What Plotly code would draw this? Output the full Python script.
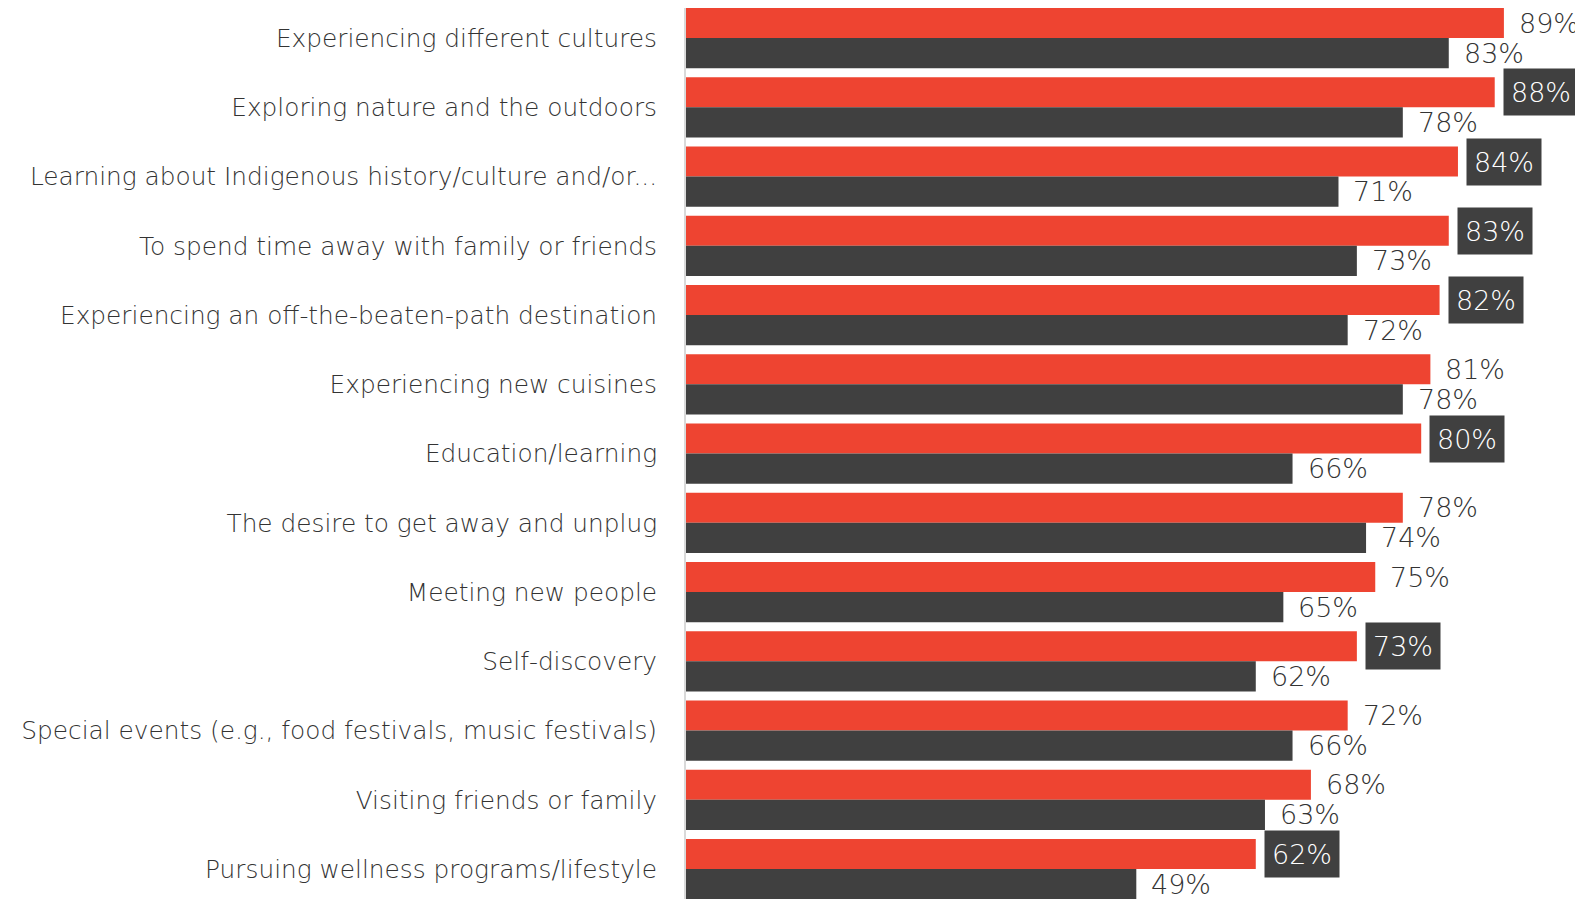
import plotly.graph_objects as go

categories = [
    "Experiencing different cultures",
    "Exploring nature and the outdoors",
    "Learning about Indigenous history/culture and/or...",
    "To spend time away with family or friends",
    "Experiencing an off-the-beaten-path destination",
    "Experiencing new cuisines",
    "Education/learning",
    "The desire to get away and unplug",
    "Meeting new people",
    "Self-discovery",
    "Special events (e.g., food festivals, music festivals)",
    "Visiting friends or family",
    "Pursuing wellness programs/lifestyle",
]
red_values = [89, 88, 84, 83, 82, 81, 80, 78, 75, 73, 72, 68, 62]
dark_values = [83, 78, 71, 73, 72, 78, 66, 74, 65, 62, 66, 63, 49]
red_boxed = [False, True, True, True, True, False, True, False, False, True, False, False, True]

RED = "#EE4431"
DARK = "#404040"
TEXT = "#333333"
FONT = "DejaVu Sans"

W, H = 1575, 891
L = 678
pitch = 69.25
r0 = -30.1 / pitch
yr = [r0 + H / pitch, r0]
bargap = 0.13
shift = pitch * (1 - bargap) / 4
pxper = 9.19

fig = go.Figure()
fig.add_trace(go.Bar(y=categories, x=red_values, orientation="h", marker=dict(color=RED, line=dict(width=0)), name="A"))
fig.add_trace(go.Bar(y=categories, x=dark_values, orientation="h", marker=dict(color=DARK, line=dict(width=0)), name="B"))

ann = []
for c, v, boxed in zip(categories, red_values, red_boxed):
    if boxed:
        ann.append(dict(x=v, y=c, xref="x", yref="y", text=f"{v}%", showarrow=False,
                        xanchor="left", yanchor="middle", xshift=8, yshift=shift,
                        bgcolor=DARK, width=72, height=44, borderpad=1,
                        font=dict(family=FONT, size=27, color="white", weight=200)))
    else:
        ann.append(dict(x=v, y=c, xref="x", yref="y", text=f"{v}%", showarrow=False,
                        xanchor="left", yanchor="middle", xshift=13, yshift=shift,
                        font=dict(family=FONT, size=27, color=TEXT, weight=200)))
for c, v in zip(categories, dark_values):
    ann.append(dict(x=v, y=c, xref="x", yref="y", text=f"{v}%", showarrow=False,
                    xanchor="left", yanchor="middle", xshift=13, yshift=-shift,
                    font=dict(family=FONT, size=27, color=TEXT, weight=200)))

fig.update_layout(
    width=W, height=H,
    margin=dict(l=L, r=0, t=0, b=0, autoexpand=False),
    paper_bgcolor="white", plot_bgcolor="white",
    barmode="group", bargap=bargap, bargroupgap=0,
    showlegend=False,
    annotations=ann,
    xaxis=dict(range=[0, (W - L) / pxper], visible=False, fixedrange=True),
    yaxis=dict(range=yr, showgrid=False, showline=True, linecolor="#d9d9d9", linewidth=2,
               ticks="", ticklabelstandoff=22, automargin=False,
               tickfont=dict(family=FONT, size=24.8, color=TEXT, weight=200)),
)
fig.write_html("out.html")
